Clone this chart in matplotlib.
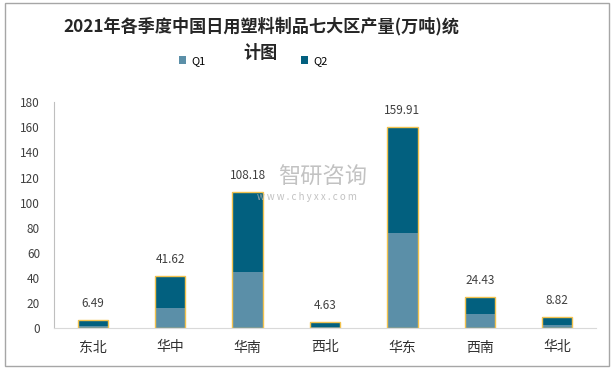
import matplotlib.pyplot as plt
from matplotlib.patches import Rectangle
import numpy as np

plt.rcParams['font.family'] = ['Noto Sans CJK SC', 'DejaVu Sans']

# regions and production (10k tons)
regions = ['东北', '华中', '华南', '西北', '华东', '西南', '华北']
totals = [6.49, 41.62, 108.18, 4.63, 159.91, 24.43, 8.82]
q1 = [1.8, 16.2, 44.8, 1.0, 75.9, 11.4, 2.6]
q2 = [t - a for t, a in zip(totals, q1)]

c_q1 = '#5b8fa8'
c_q2 = '#02607f'
c_edge = '#f2c24e'

fig = plt.figure(figsize=(6.15, 3.69), dpi=100)
ax = fig.add_axes([54 / 615, 1 - 328 / 369, 542 / 615, 225.7 / 369])

x = np.arange(len(regions))
w = 0.39
b1 = ax.bar(x, q1, w, color=c_q1, label='Q1', zorder=2)
b2 = ax.bar(x, q2, w, bottom=q1, color=c_q2, label='Q2', zorder=2)
# gold outline round the whole stack
ax.bar(x, totals, w, fill=False, edgecolor=c_edge, linewidth=1.0, zorder=3)

for xi, t in zip(x, totals):
    ax.text(xi, t + 8, f'{t:.2f}', ha='center', va='bottom', fontsize=8.5,
            color='#404040', zorder=4)

ax.set_xlim(-0.5, len(regions) - 0.5)
ax.set_ylim(0, 180)
ax.set_yticks(range(0, 181, 20))
ax.set_xticks(x)
ax.set_xticklabels(regions, fontsize=10, color='#303030')
ax.tick_params(axis='y', labelsize=8.5, labelcolor='#404040', length=0, pad=10)
ax.tick_params(axis='x', length=0, pad=9)
for s in ['top', 'right']:
    ax.spines[s].set_visible(False)
ax.spines['left'].set_color('#bfbfbf')
ax.spines['bottom'].set_color('#d9d9d9')

# watermark
fig.text(323 / 615, 1 - 177 / 369, '智研咨询', fontsize=16, color='#b3b3b3',
         ha='center', va='center', alpha=0.8, zorder=1)
fig.text(307 / 615, 1 - 197 / 369, 'w w w . c h y x x . c o m', fontsize=7,
         color='#b3b3b3', ha='center', va='center', alpha=0.8, zorder=1)

fig.text(261 / 615, 1 - 26 / 369, '2021年各季度中国日用塑料制品七大区产量(万吨)统',
         ha='center', va='center', fontsize=12.3, fontweight='bold', color='#262626')
fig.text(261 / 615, 1 - 53 / 369, '计图', ha='center', va='center',
         fontsize=12.3, fontweight='bold', color='#262626')

fig.legend(handles=[b1, b2], loc='center', bbox_to_anchor=(253 / 615, 1 - 61 / 369),
           ncol=2, frameon=False, fontsize=8, handlelength=0.7, handleheight=0.7,
           handletextpad=0.4, columnspacing=8.6)

fig.patches.append(Rectangle((5 / 615, 3 / 369), 604 / 615, 363 / 369,
                             transform=fig.transFigure, fill=False,
                             edgecolor='#a6a6a6', linewidth=1.0))

fig.savefig('out.png', dpi=100)
